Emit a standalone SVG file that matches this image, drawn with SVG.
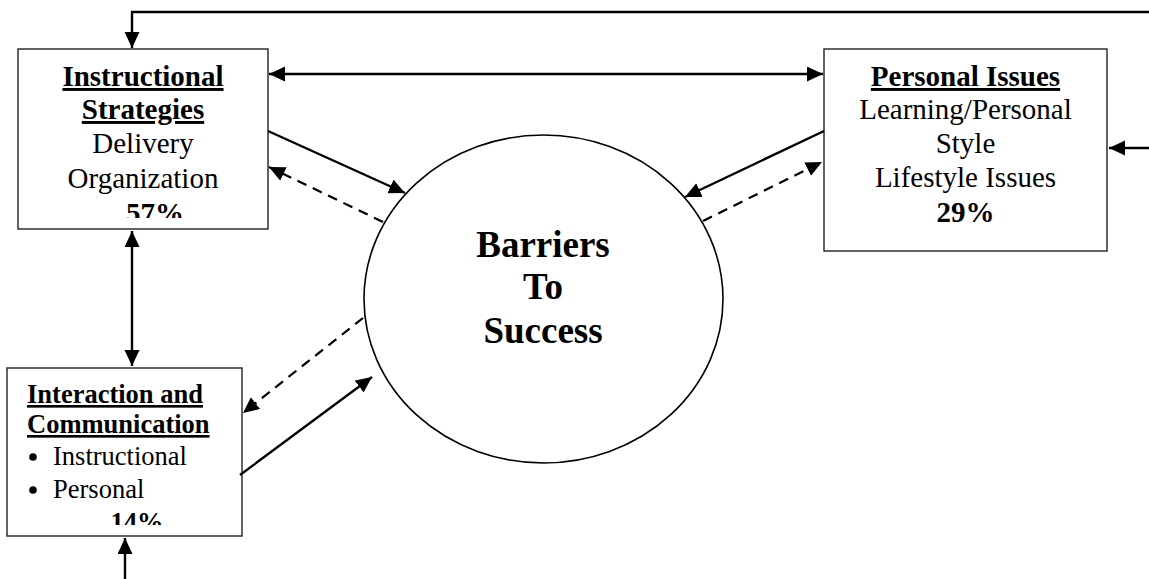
<svg xmlns="http://www.w3.org/2000/svg" width="1149" height="579" viewBox="0 0 1149 579">
<style>
.box{fill:#fff;stroke:#222;stroke-width:1.4}
.ell{fill:#fff;stroke:#000;stroke-width:1.6}
.c{fill:none;stroke:#000;stroke-width:2.4}
.d{fill:none;stroke:#000;stroke-width:2.2;stroke-dasharray:10 7}
.t{font-family:"Liberation Serif","Times New Roman",serif;fill:#000}
.r29{font-size:29px}
.r26{font-size:26.5px}
.b{font-weight:bold}
.u{text-decoration:underline}
.m{text-anchor:middle}
</style>
<defs>
<marker id="ah" markerUnits="userSpaceOnUse" markerWidth="18" markerHeight="16" refX="16" refY="7.5" orient="auto-start-reverse">
<path d="M0,0 L16,7.5 L0,15 Z" fill="#000"/>
</marker>
<clipPath id="clip1"><rect x="18" y="49" width="250" height="169"/></clipPath>
<clipPath id="clip3"><rect x="7" y="368" width="235" height="157"/></clipPath>
</defs>
<rect width="1149" height="579" fill="#fff"/>
<g id="node-barriers">
<ellipse class="ell" cx="543.5" cy="299" rx="179.5" ry="164"/>
<text class="t b m" x="543" y="257" font-size="37">Barriers</text>
<text class="t b m" x="543" y="299" font-size="37">To</text>
<text class="t b m" x="543" y="343" font-size="37">Success</text>
</g>
<g id="node-instructional">
<rect class="box" x="18" y="49" width="250" height="180"/>
<g class="t r29 m">
<text class="b u" x="143" y="86">Instructional</text>
<text class="b u" x="143" y="119">Strategies</text>
<text x="143" y="153">Delivery</text>
<text x="143" y="188">Organization</text>
<text class="b" x="155" y="223" clip-path="url(#clip1)">57%</text>
</g>
</g>
<g id="node-personal">
<rect class="box" x="824" y="49" width="283" height="202"/>
<g class="t r29 m">
<text class="b u" x="965.5" y="86">Personal Issues</text>
<text x="965.5" y="119">Learning/Personal</text>
<text x="965.5" y="153">Style</text>
<text x="965.5" y="187">Lifestyle Issues</text>
<text class="b" x="965.5" y="222">29%</text>
</g>
</g>
<g id="node-interaction">
<rect class="box" x="7" y="368" width="235" height="168"/>
<g class="t r26">
<text class="b u" x="27" y="403">Interaction and</text>
<text class="b u" x="27" y="433">Communication</text>
<circle cx="33" cy="457" r="3.8" fill="#000"/>
<text x="53" y="465">Instructional</text>
<circle cx="33" cy="490" r="3.8" fill="#000"/>
<text x="53" y="498">Personal</text>
<text class="b m" x="137" y="531" clip-path="url(#clip3)">14%</text>
</g>
</g>
<g id="connectors">
<polyline class="c" points="1149,12 132,12 132,48" marker-end="url(#ah)"/>
<line class="c" x1="269" y1="74" x2="823" y2="74" marker-start="url(#ah)" marker-end="url(#ah)"/>
<line class="c" x1="1149" y1="148" x2="1109" y2="148" marker-end="url(#ah)"/>
<line class="c" x1="132" y1="231" x2="132" y2="366" marker-start="url(#ah)" marker-end="url(#ah)"/>
<line class="c" x1="125" y1="579" x2="125" y2="538" marker-end="url(#ah)"/>
<line class="c" x1="268" y1="131" x2="405" y2="193" marker-end="url(#ah)"/>
<line class="d" x1="383" y1="222" x2="269" y2="167" marker-end="url(#ah)"/>
<line class="c" x1="824" y1="131" x2="685" y2="197" marker-end="url(#ah)"/>
<line class="d" x1="703" y1="221" x2="822" y2="162" marker-end="url(#ah)"/>
<line class="d" x1="363" y1="318" x2="243" y2="413" marker-end="url(#ah)"/>
<line class="c" x1="240" y1="475" x2="372" y2="377" marker-end="url(#ah)"/>
</g>
</svg>
